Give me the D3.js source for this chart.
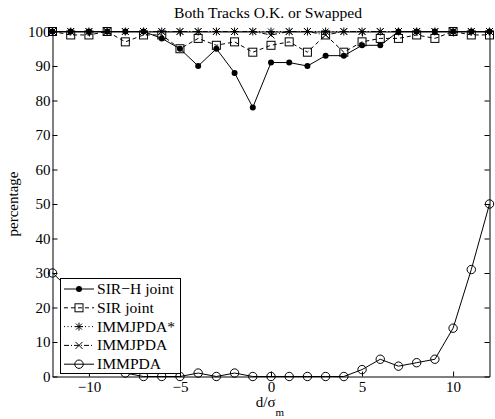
<!DOCTYPE html>
<html>
<head>
<meta charset="utf-8">
<script src="https://cdn.jsdelivr.net/npm/d3@7/dist/d3.min.js"></script>
<style>
  html, body { margin: 0; padding: 0; background: #fff; }
  svg { display: block; }
  text { font-family: "Liberation Serif", "Times New Roman", serif; fill: #000; }
</style>
</head>
<body>
<svg id="chart" width="495" height="419"></svg>
<script>
// Separation d/sigma_m sampled at every integer
const xValues = [-12, -11, -10, -9, -8, -7, -6, -5, -4, -3, -2, -1, 0, 1, 2, 3, 4, 5, 6, 7, 8, 9, 10, 11, 12];

// Percentage of runs where both tracks are O.K. or swapped
const sirHJoint = [100, 100, 100, 100, 100, 100, 98, 95, 90, 95, 88, 78, 91, 91, 90, 93, 93, 96, 96, 100, 100, 100, 100, 100, 100];
const sirJoint  = [100, 99, 99, 100, 97, 99, 99, 95, 98, 96, 97, 94, 96, 97, 94, 99, 94, 97, 98, 98, 99, 98, 100, 99, 99];
const immjpdaStar = [100, 100, 100, 100, 100, 100, 100, 100, 100, 100, 100, 100, 100, 100, 100, 100, 100, 100, 100, 100, 100, 100, 100, 100, 100];
const immjpda   = [100, 100, 100, 100, 100, 100, 100, 100, 100, 100, 100, 100, 99, 100, 100, 99, 100, 100, 100, 100, 100, 100, 100, 100, 100];
const immpda    = [30, 25, 12, 4, 1, 0, 0, 0, 1, 0, 1, 0, 0, 0, 0, 0, 0, 2, 5, 3, 4, 5, 14, 31, 50];

const xTicks = [-10, -5, 0, 5, 10];
const yTicks = [0, 10, 20, 30, 40, 50, 60, 70, 80, 90, 100];

const titleText = "Both Tracks O.K. or Swapped";
const yLabelText = "percentage";

const series = [
  { name: "SIR\u2212H joint", values: sirHJoint, marker: "dot", dash: null },
  { name: "SIR joint", values: sirJoint, marker: "square", dash: "4,3" },
  { name: "IMMJPDA*", values: immjpdaStar, marker: "star", dash: "1,2.5" },
  { name: "IMMJPDA", values: immjpda, marker: "cross", dash: "5,2,1,2" },
  { name: "IMMPDA", values: immpda, marker: "circle", dash: null }
];

const svg = d3.select("#chart");
const plotL = 52.5, plotR = 489.5, plotT = 31.5, plotB = 376.5;

const x = d3.scaleLinear().domain([-12, 12]).range([plotL, plotR]);
const y = d3.scaleLinear().domain([0, 100]).range([plotB, plotT]);

const FS = 15;
const FS_TEXT = 15.6;
const tickLen = 5;

// Axes: inward ticks on all four sides
const gx = svg.append("g").attr("transform", `translate(0,${plotB})`)
  .call(d3.axisBottom(x).tickValues(xTicks).tickSizeInner(-tickLen).tickSizeOuter(0).tickPadding(5));
const gxt = svg.append("g").attr("transform", `translate(0,${plotT})`)
  .call(d3.axisTop(x).tickValues(xTicks).tickSizeInner(-tickLen).tickSizeOuter(0).tickFormat(""));
const gy = svg.append("g").attr("transform", `translate(${plotL},0)`)
  .call(d3.axisLeft(y).tickValues(yTicks).tickSizeInner(-tickLen).tickSizeOuter(0).tickPadding(2));
const gyr = svg.append("g").attr("transform", `translate(${plotR},0)`)
  .call(d3.axisRight(y).tickValues(yTicks).tickSizeInner(-tickLen).tickSizeOuter(0).tickFormat(""));

[gx, gxt, gy, gyr].forEach(g => {
  g.select(".domain").attr("stroke", "#000").attr("stroke-width", 1);
  g.selectAll(".tick line").attr("stroke", "#000").attr("stroke-width", 1);
  g.selectAll("text").attr("font-size", FS).attr("font-family", "Liberation Serif, serif").attr("fill", "#000");
});

// Title and axis labels
svg.append("text").attr("x", 268).attr("y", 18)
  .attr("text-anchor", "middle").attr("font-size", FS_TEXT).text(titleText);

const xl = svg.append("text").attr("x", 270).attr("y", 407)
  .attr("text-anchor", "middle").attr("font-size", FS);
xl.append("tspan").text("d/\u03c3");
xl.append("tspan").attr("dy", 9).attr("font-size", 11).text("m");

svg.append("text").attr("transform", `translate(18,${(plotT + plotB) / 2}) rotate(-90)`)
  .attr("text-anchor", "middle").attr("font-size", FS).text(yLabelText);

// Marker drawing
function drawMarker(g, type, cx, cy) {
  const s = g.append("g").attr("transform", `translate(${cx},${cy})`);
  const outline = sel => sel.attr("stroke", "#000").attr("stroke-width", 1).attr("fill", "none");
  if (type === "dot") {
    s.append("circle").attr("r", 3).attr("fill", "#000");
  } else if (type === "square") {
    outline(s.append("rect").attr("x", -4).attr("y", -4).attr("width", 8).attr("height", 8));
  } else if (type === "circle") {
    outline(s.append("circle").attr("r", 4.2));
  } else if (type === "cross") {
    outline(s.append("path").attr("d", "M-3.5,-3.5L3.5,3.5M-3.5,3.5L3.5,-3.5"));
  } else if (type === "star") {
    outline(s.append("path").attr("d", "M-4,0L4,0M0,-4L0,4M-3,-3L3,3M-3,3L3,-3"));
  }
}

const line = d3.line().x(d => x(d[0])).y(d => y(d[1]));
const plot = svg.append("g");

series.forEach(sr => {
  const pts = xValues.map((xv, i) => [xv, sr.values[i]]);
  plot.append("path").datum(pts).attr("d", line)
    .attr("fill", "none").attr("stroke", "#000").attr("stroke-width", 1)
    .attr("stroke-dasharray", sr.dash);
  pts.forEach(p => drawMarker(plot, sr.marker, x(p[0]), y(p[1])));
});

// Legend
const lg = svg.append("g");
lg.append("rect").attr("x", 60.5).attr("y", 278.5).attr("width", 120).attr("height", 95)
  .attr("fill", "#fff").attr("stroke", "#000").attr("stroke-width", 1);
series.forEach((sr, i) => {
  const ly = 289 + i * 18.8;
  lg.append("line").attr("x1", 64).attr("x2", 94).attr("y1", ly).attr("y2", ly)
    .attr("stroke", "#000").attr("stroke-width", 1).attr("stroke-dasharray", sr.dash);
  drawMarker(lg, sr.marker, 79, ly);
  lg.append("text").attr("x", 97).attr("y", ly + 5).attr("font-size", FS_TEXT).text(sr.name);
});
</script>
</body>
</html>
